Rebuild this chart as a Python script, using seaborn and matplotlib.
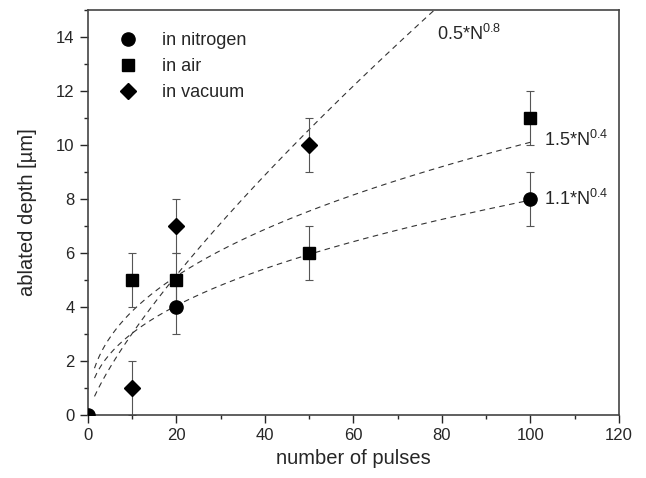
import numpy as np
import pandas as pd
import matplotlib
matplotlib.use('Agg')
import matplotlib.pyplot as plt
from matplotlib.ticker import MultipleLocator
import seaborn as sns

# measured ablated depth (um) vs number of pulses, error +-1 um
n_nitrogen = [0, 20, 100]
d_nitrogen = [0, 4, 8]
n_air = [10, 20, 50, 100]
d_air = [5, 5, 6, 11]
n_vacuum = [10, 20, 50]
d_vacuum = [1, 7, 10]
err = 1.0

# fit curves a*N^b as drawn
fit_coef = [0.5, 1.46, 1.15]
fit_exp = [0.78, 0.42, 0.42]
fit_nmax = [90, 100, 100]
fit_labels = [r'0.5*N$^{0.8}$', r'1.5*N$^{0.4}$', r'1.1*N$^{0.4}$']
label_pos = [(79, 14.1), (103, 10.2), (103, 8.0)]

sns.set_style('ticks')
plt.rcParams['font.family'] = ['Liberation Sans', 'DejaVu Sans']
plt.rcParams['mathtext.fontset'] = 'custom'
plt.rcParams['mathtext.rm'] = 'Liberation Sans'

fig, ax = plt.subplots(figsize=(6.46, 4.78), dpi=100)
fig.subplots_adjust(left=0.136, right=0.958, top=0.979, bottom=0.132)

# fit curves
for a, b, nmax in zip(fit_coef, fit_exp, fit_nmax):
    n = np.linspace(1.5, nmax, 200)
    fit = pd.DataFrame({'n': n, 'd': a * n ** b})
    sns.lineplot(data=fit, x='n', y='d', ax=ax, color='#333333', lw=0.8,
                 linestyle=(0, (5, 4)), legend=False)

series = [
    ('in nitrogen', n_nitrogen, d_nitrogen, 'o', 9.5),
    ('in air', n_air, d_air, 's', 9),
    ('in vacuum', n_vacuum, d_vacuum, 'D', 8.5),
]
for name, n, d, m, ms in series:
    yerr = [0 if x == 0 else err for x in n]
    ax.errorbar(n, d, yerr=yerr, fmt='none', ecolor='#555555', elinewidth=0.8,
                capsize=3, capthick=0.8, zorder=2)
    ax.plot(n, d, linestyle='none', marker=m, markersize=ms, color='black',
            label=name, zorder=3)

for txt, (x, y) in zip(fit_labels, label_pos):
    ax.text(x, y, txt, fontsize=13, ha='left', va='center')

ax.set_xlim(0, 120)
ax.set_ylim(0, 15)
ax.xaxis.set_major_locator(MultipleLocator(20))
ax.xaxis.set_minor_locator(MultipleLocator(10))
ax.yaxis.set_major_locator(MultipleLocator(2))
ax.yaxis.set_minor_locator(MultipleLocator(1))
ax.set_yticks(range(0, 15, 2))
ax.tick_params(which='major', length=6, width=1, labelsize=12, direction='out')
ax.tick_params(which='minor', length=3, width=1, direction='out')
for s in ax.spines.values():
    s.set_color('#444444')
    s.set_linewidth(1.2)

ax.set_xlabel('number of pulses', fontsize=14.5)
ax.set_ylabel('ablated depth [µm]', fontsize=14.5, labelpad=14)

ax.legend(loc='upper left', frameon=False, fontsize=13, handletextpad=0.9,
          borderaxespad=0, labelspacing=0.5, bbox_to_anchor=(0.028, 0.963))

plt.savefig('out.png', dpi=100)
